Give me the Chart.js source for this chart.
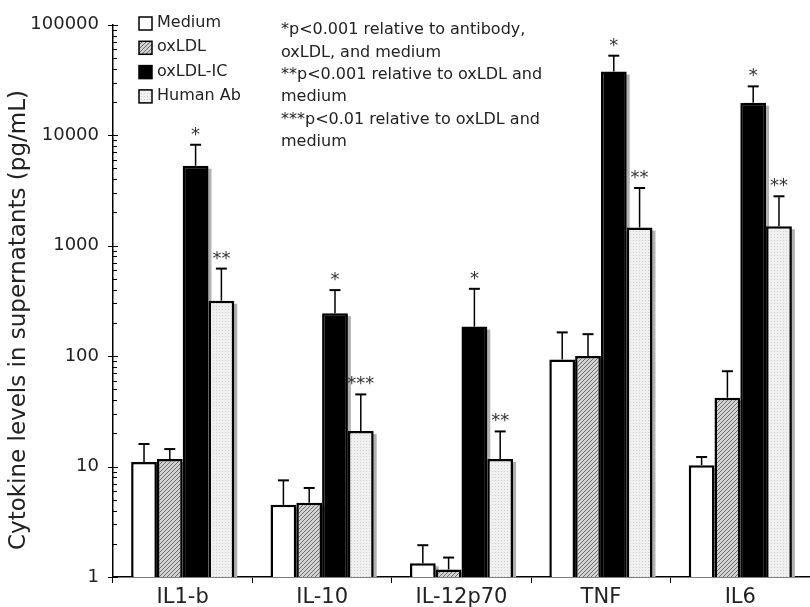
<!DOCTYPE html>
<html>
<head>
<meta charset="utf-8">
<script src="https://cdn.jsdelivr.net/npm/chart.js@4"></script>
<style>
html, body { margin: 0; padding: 0; background: #fff; }
#wrap { width: 810px; height: 607px; position: relative; }
</style>
</head>
<body>
<div id="wrap"><canvas id="myChart"></canvas></div>
<script>
"use strict"
let categories = ['IL1-b', 'IL-10', 'IL-12p70', 'TNF', 'IL6'];
let seriesNames = ['Medium', 'oxLDL', 'oxLDL-IC', 'Human Ab'];
let mediumVals = [11.0, 4.5, 1.33, 93, 10.3];
let oxldlVals = [11.7, 4.7, 1.17, 100, 42];
let oxldlIcVals = [5300, 245, 185, 37700, 19700];
let humanAbVals = [318, 21, 11.7, 1460, 1500];
// tops of the error bars
let mediumErr = [16, 7.5, 1.94, 164, 12.2];
let oxldlErr = [14.4, 6.4, 1.5, 158, 73];
let oxldlIcErr = [8200, 396, 407, 52500, 27700];
let humanAbErr = [620, 45, 20.8, 3330, 2800];
let oxldlIcStars = ['*', '*', '*', '*', '*'];
let humanAbStars = ['**', '***', '**', '**', '**'];
let yTicks = [1, 10, 100, 1000, 10000, 100000];
let yTitle = 'Cytokine levels in supernatants (pg/mL)';
let noteLines = ['*p<0.001 relative to antibody,', 'oxLDL, and medium', '**p<0.001 relative to oxLDL and',
    'medium', '***p<0.01 relative to oxLDL and', 'medium'];

let font = 'DejaVu Sans';

function hatchPattern() {
    let c = document.createElement('canvas');
    c.width = 4; c.height = 4;
    let g = c.getContext('2d');
    g.fillStyle = '#d2d2d2';
    g.fillRect(0, 0, 4, 4);
    g.fillStyle = '#6e6e6e';
    for (let i = 0; i < 4; i++) {
        g.fillRect(i, 3 - i, 1, 1);
    }
    return g.createPattern(c, 'repeat');
}
function dotPattern() {
    let c = document.createElement('canvas');
    c.width = 3; c.height = 3;
    let g = c.getContext('2d');
    g.fillStyle = '#f0f0f0';
    g.fillRect(0, 0, 3, 3);
    g.fillStyle = '#cfcfcf';
    g.fillRect(0, 0, 1, 1);
    return g.createPattern(c, 'repeat');
}

let fills = ['#ffffff', hatchPattern(), '#000000', dotPattern()];
let values = [mediumVals, oxldlVals, oxldlIcVals, humanAbVals];
let errs = [mediumErr, oxldlErr, oxldlIcErr, humanAbErr];
let stars = [null, null, oxldlIcStars, humanAbStars];

let datasets = [];
for (let i = 0; i < seriesNames.length; i++) {
    datasets.push({
        label: seriesNames[i],
        data: values[i],
        errTop: errs[i],
        stars: stars[i],
        backgroundColor: fills[i],
        borderColor: '#000',
        borderWidth: 2.5,
        borderSkipped: 'bottom',
        barPercentage: 1,
        categoryPercentage: 0.74
    });
}

// grey drop shadow behind bars
let shadowPlugin = {
    id: 'shadows',
    beforeDatasetsDraw(chart) {
        let ctx = chart.ctx;
        ctx.save();
        ctx.fillStyle = '#b0b0b0';
        chart.data.datasets.forEach((ds, di) => {
            chart.getDatasetMeta(di).data.forEach(bar => {
                let w = bar.width;
                ctx.fillRect(bar.x - w / 2 + 3, bar.y + 3, w, bar.base - bar.y - 3);
            });
        });
        ctx.restore();
    }
};

let errorPlugin = {
    id: 'errorBars',
    afterDatasetsDraw(chart) {
        let ctx = chart.ctx;
        let y = chart.scales.y;
        ctx.save();
        ctx.strokeStyle = '#000';
        ctx.fillStyle = '#333';
        ctx.font = '18px ' + font;
        ctx.textAlign = 'center';
        ctx.textBaseline = 'alphabetic';
        chart.data.datasets.forEach((ds, di) => {
            chart.getDatasetMeta(di).data.forEach((bar, i) => {
                let top = y.getPixelForValue(ds.errTop[i]);
                ctx.lineWidth = 1.5;
                ctx.beginPath();
                ctx.moveTo(bar.x, bar.y);
                ctx.lineTo(bar.x, top);
                ctx.stroke();
                ctx.lineWidth = 2;
                ctx.beginPath();
                ctx.moveTo(bar.x - 5.5, top);
                ctx.lineTo(bar.x + 5.5, top);
                ctx.stroke();
                if (ds.stars) {
                    ctx.fillText(ds.stars[i], bar.x, top - 5);
                }
            });
        });
        ctx.restore();
    }
};

let extrasPlugin = {
    id: 'extras',
    afterDraw(chart) {
        let ctx = chart.ctx;
        let y = chart.scales.y;
        let ax = chart.chartArea.left;
        ctx.save();
        // y axis tick marks
        ctx.strokeStyle = '#000';
        ctx.lineWidth = 1;
        for (let d = 0; d < yTicks.length; d++) {
            let py = Math.round(y.getPixelForValue(yTicks[d])) + 0.5;
            ctx.beginPath();
            ctx.moveTo(ax - 5, py);
            ctx.lineTo(ax + 5, py);
            ctx.stroke();
            if (d == yTicks.length - 1) break;
            for (let k = 2; k < 10; k++) {
                let pm = Math.round(y.getPixelForValue(yTicks[d] * k)) + 0.5;
                ctx.beginPath();
                ctx.moveTo(ax, pm);
                ctx.lineTo(ax + 4, pm);
                ctx.stroke();
            }
        }
        // y title
        ctx.save();
        ctx.translate(19, 320);
        ctx.rotate(-Math.PI / 2);
        ctx.font = '23px ' + font;
        ctx.fillStyle = '#222';
        ctx.textAlign = 'center';
        ctx.textBaseline = 'middle';
        ctx.fillText(yTitle, 0, 0);
        ctx.restore();
        // legend
        ctx.font = '16px ' + font;
        ctx.textAlign = 'left';
        ctx.textBaseline = 'middle';
        chart.data.datasets.forEach((ds, i) => {
            let cy = 23 + i * 24.3;
            ctx.fillStyle = ds.backgroundColor;
            ctx.fillRect(139, cy - 6, 13, 13);
            ctx.lineWidth = 1.5;
            ctx.strokeStyle = '#000';
            ctx.strokeRect(139, cy - 6, 13, 13);
            ctx.fillStyle = '#222';
            ctx.fillText(ds.label, 157, cy);
        });
        // note text
        for (let i = 0; i < noteLines.length; i++) {
            ctx.fillText(noteLines[i], 281, 30 + i * 22.4);
        }
        ctx.restore();
    }
};

let ctx = document.getElementById('myChart').getContext('2d');
let myChart = new Chart(ctx, {
    type: 'bar',
    data: {
        labels: categories,
        datasets: datasets
    },
    plugins: [shadowPlugin, errorPlugin, extrasPlugin],
    options: {
        responsive: true,
        maintainAspectRatio: false,
        animation: false,
        devicePixelRatio: 1,
        layout: { padding: { top: 20, right: 0, left: 0, bottom: 0 } },
        plugins: {
            legend: { display: false },
            tooltip: { enabled: false }
        },
        scales: {
            x: {
                grid: { drawOnChartArea: false, drawTicks: true, tickLength: 6, color: '#000', offset: true },
                border: { color: '#000', width: 1.5 },
                ticks: { color: '#222', font: { family: font, size: 21 }, padding: 2, maxRotation: 0 },
                afterFit(s) { s.height = 30; }
            },
            y: {
                type: 'logarithmic',
                min: 1,
                max: 100000,
                grid: { drawOnChartArea: false, drawTicks: false },
                border: { color: '#000', width: 1.5 },
                afterBuildTicks(s) { s.ticks = yTicks.map(v => ({ value: v })); },
                ticks: {
                    color: '#222',
                    font: { family: font, size: 18 },
                    padding: 14,
                    callback: v => String(v)
                },
                afterFit(s) { s.width = 113; }
            }
        }
    }
});
</script>
</body>
</html>
